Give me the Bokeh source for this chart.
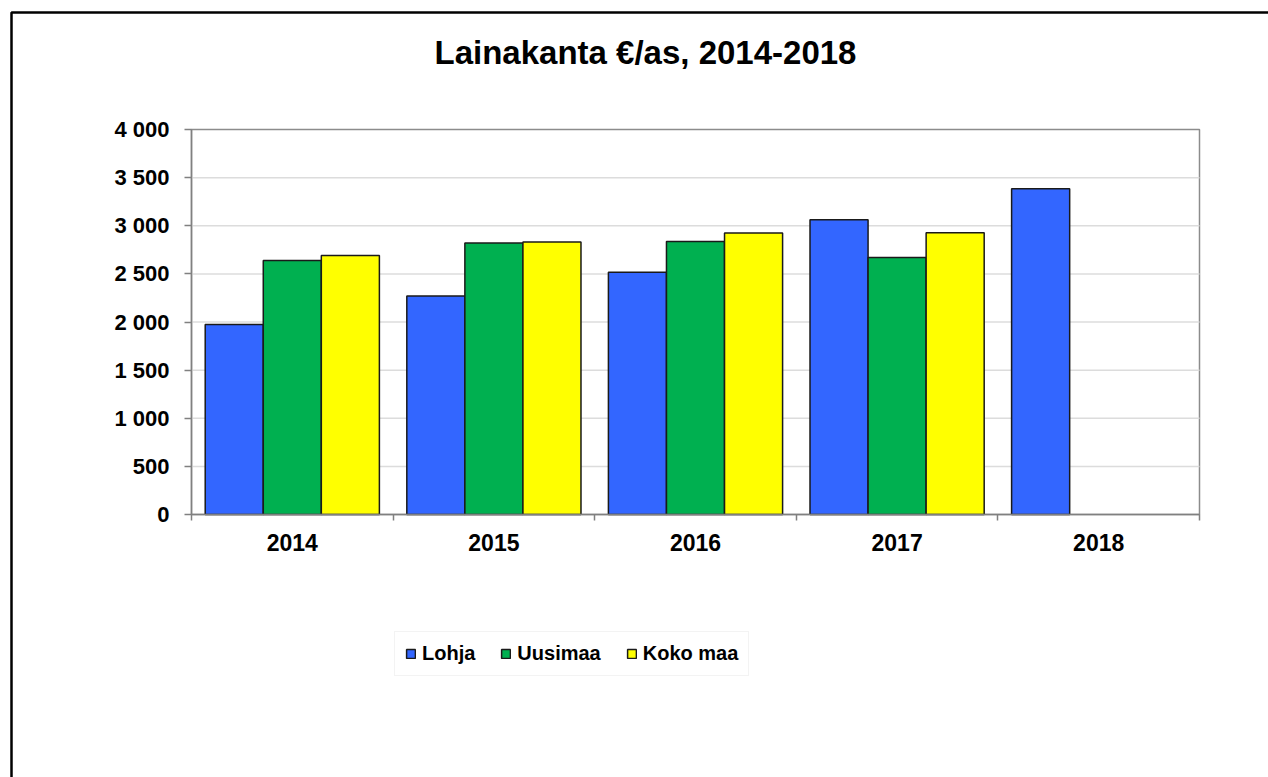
import numpy as np
from bokeh.plotting import figure
from bokeh.models import (FixedTicker, Legend, LegendItem, Label, BoxAnnotation, Range1d)
from bokeh.embed import file_html
from bokeh.resources import INLINE

# ---- data ----
years = ["2014", "2015", "2016", "2017", "2018"]
lohja = [1975, 2270, 2518, 3062, 3385]
uusimaa = [2639, 2820, 2837, 2670, None]
koko_maa = [2692, 2830, 2924, 2927, None]
series_names = ["Lohja", "Uusimaa", "Koko maa"]
series_values = [lohja, uusimaa, koko_maa]
series_colors = ["#3366FF", "#00B050", "#FFFF00"]
y_ticks = [0, 500, 1000, 1500, 2000, 2500, 3000, 3500, 4000]
title_text = "Lainakanta €/as, 2014-2018"

# ---- layout (pixels on the canvas) ----
FONT = "Liberation Sans"
W, H = 1268, 777
PX_L, PX_R, PX_T, PX_B = 191, 1199, 129, 514
n = len(years)
ymax = y_ticks[-1]
sx = (PX_R - PX_L) / n
sy = (PX_B - PX_T) / ymax
x_start, x_end = -PX_L / sx, n + (W - PX_R) / sx
y_start, y_end = -(H - PX_B) / sy, ymax + PX_T / sy


def xd(px):
    return x_start + px / sx


def yd(py):
    return y_end - py / sy


p = figure(width=W, height=H, output_backend="svg", toolbar_location=None,
           x_range=Range1d(x_start, x_end), y_range=Range1d(y_start, y_end),
           min_border=0, min_border_left=0, min_border_right=0,
           min_border_top=0, min_border_bottom=0)
p.background_fill_color = "white"
p.border_fill_color = "white"
p.outline_line_color = None
p.grid.visible = False

# gridlines inside the plot area
grid_vals = [v for v in y_ticks if 0 < v < ymax]
p.segment(x0=[0] * len(grid_vals), x1=[n] * len(grid_vals), y0=grid_vals, y1=grid_vals,
          line_color="#dcdcdc", line_width=1.5)

# plot area border (top/right)
p.add_layout(BoxAnnotation(left=0, right=n, bottom=0, top=ymax, fill_alpha=0,
                           line_color="#8c8c8c", line_alpha=1.0, line_width=1.5,
                           level="underlay"))

bar_w = 0.288
offsets = [-bar_w, 0.0, bar_w]
renderers = []
for vals, off, col in zip(series_values, offsets, series_colors):
    xs = [i + 0.5 + off for i, v in enumerate(vals) if v is not None]
    tops = [v for v in vals if v is not None]
    r = p.vbar(x=xs, top=tops, bottom=0, width=bar_w, fill_color=col,
               line_color="#1a1a1a", line_width=1.5)
    renderers.append(r)

# y axis
yax = p.yaxis[0]
yax.fixed_location = 0
yax.bounds = (0, ymax)
yax.ticker = FixedTicker(ticks=y_ticks)
yax.major_label_overrides = {v: f"{v:,}".replace(",", " ") for v in y_ticks}
yax.major_label_text_font = FONT
yax.major_label_text_font_style = "bold"
yax.major_label_text_font_size = "22px"
yax.major_label_text_color = "black"
yax.major_tick_in = 0
yax.major_tick_out = 7
yax.minor_tick_line_color = None
yax.major_tick_line_color = "#808080"
yax.major_tick_line_width = 1.5
yax.axis_line_color = "#808080"
yax.axis_line_width = 1.5
yax.major_label_standoff = 15

# x axis
centers = [i + 0.5 for i in range(n)]
xax = p.xaxis[0]
xax.fixed_location = 0
xax.bounds = (0, n)
xax.ticker = FixedTicker(ticks=centers, minor_ticks=list(range(n + 1)))
xax.major_label_overrides = {c: y for c, y in zip(centers, years)}
xax.major_label_text_font = FONT
xax.major_label_text_font_style = "bold"
xax.major_label_text_font_size = "23px"
xax.major_label_text_color = "black"
xax.major_tick_line_color = None
xax.minor_tick_in = 0
xax.minor_tick_out = 6
xax.minor_tick_line_color = "#808080"
xax.minor_tick_line_width = 1.5
xax.axis_line_color = "#808080"
xax.axis_line_width = 1.5
xax.major_label_standoff = 13

# legend
legend = Legend(items=[LegendItem(label=nm, renderers=[r]) for nm, r in zip(series_names, renderers)],
                orientation="horizontal", location=(394, H - 676))
legend.label_text_font = FONT
legend.label_text_font_style = "bold"
legend.label_text_font_size = "20px"
legend.label_text_color = "black"
legend.glyph_width = 11
legend.glyph_height = 11
legend.label_standoff = 6
legend.spacing = 25
legend.padding = 10
legend.margin = 0
legend.border_line_color = "#f3f3f3"
legend.border_line_alpha = 1.0
legend.background_fill_color = "white"
p.add_layout(legend)

# title
p.add_layout(Label(x=xd(645), y=yd(52), text=title_text,
                   text_font=FONT, text_font_style="bold", text_font_size="33px",
                   text_align="center", text_baseline="alphabetic", text_color="black"))

# outer chart frame (right and bottom edges lie outside the picture)
p.add_layout(BoxAnnotation(left=xd(11), right=xd(W + 40), top=yd(12), bottom=yd(H + 40),
                           fill_alpha=0, line_color="black", line_alpha=1.0, line_width=2.5))

open("out.html", "w").write(file_html(p, INLINE))
